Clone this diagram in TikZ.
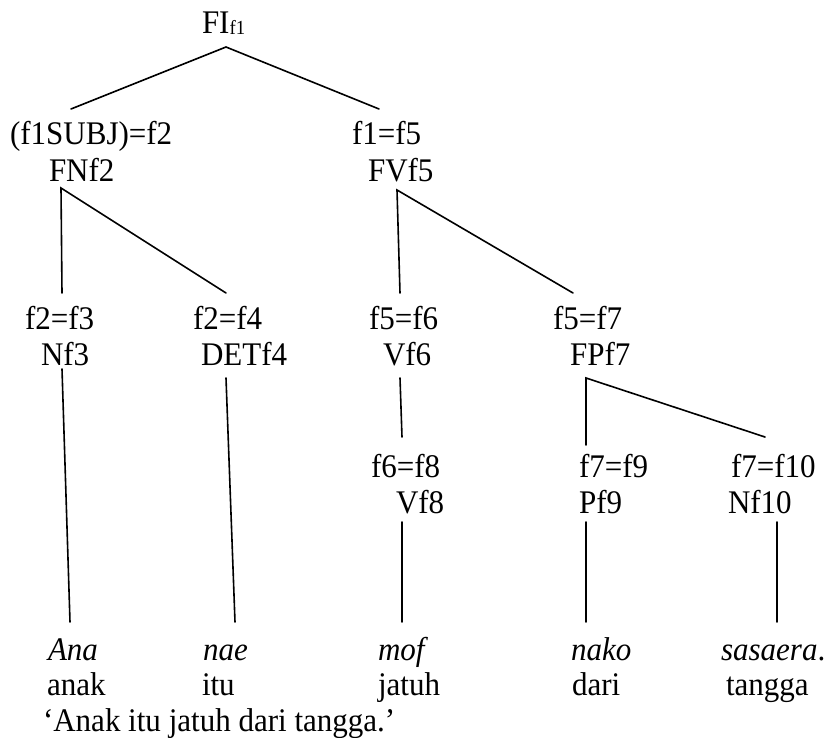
\documentclass[tikz,border=0pt]{standalone}
\usepackage{fontspec}
\setmainfont{Liberation Serif}[FakeStretch=0.94]
\begin{document}
\begin{tikzpicture}[x=1pt,y=-1pt,
  lbl/.style={anchor=base west,inner sep=0pt,outer sep=0pt,font=\fontsize{33}{39}\selectfont},
  edge/.style={line width=1.6pt,line cap=round}]
\useasboundingbox[fill=white] (0,0) rectangle (833,738);
% labels
\node[lbl] (FI) at (202,34) {FI\raisebox{-1pt}{\fontsize{20}{20}\selectfont f1}};
\node[lbl] (subj) at (10,145) {(f1SUBJ)=f2};
\node[lbl] (FN) at (49,182) {FNf2};
\node[lbl] (f15) at (352,145) {f1=f5};
\node[lbl] (FV) at (368,182) {FVf5};
\node[lbl] (f23) at (25,329) {f2=f3};
\node[lbl] (N3) at (41,365) {Nf3};
\node[lbl] (f24) at (193,329) {f2=f4};
\node[lbl] (DET) at (201,365) {DETf4};
\node[lbl] (f56) at (369,329) {f5=f6};
\node[lbl] (V6) at (383,365) {Vf6};
\node[lbl] (f57) at (553,329) {f5=f7};
\node[lbl] (FP) at (570,365) {FPf7};
\node[lbl] (f68) at (371,477) {f6=f8};
\node[lbl] (V8) at (396,513) {Vf8};
\node[lbl] (f79) at (579,477) {f7=f9};
\node[lbl] (P9) at (579,513) {Pf9};
\node[lbl] (f710) at (731,477) {f7=f10};
\node[lbl] (N10) at (728,513) {Nf10};
\node[lbl] (ana) at (48,660) {\itshape Ana};
\node[lbl] (anak) at (47,695) {anak};
\node[lbl] (nae) at (203,660) {\itshape nae};
\node[lbl] (itu) at (202,695) {itu};
\node[lbl] (mof) at (378,660) {\itshape mof};
\node[lbl] (jatuh) at (378,695) {jatuh};
\node[lbl] (nako) at (571,660) {\itshape nako};
\node[lbl] (dari) at (572,695) {dari};
\node[lbl] (sas) at (721,660) {\itshape sasaera\upshape.};
\node[lbl] (tangga) at (726,695) {tangga};
\node[lbl] (gloss) at (43,731) {‘Anak itu jatuh dari tangga.’};
% connector end points
\coordinate (cFI) at (226,47);
\coordinate (cSubjT) at (71,109);
\coordinate (cF15T) at (379,109);
\coordinate (cFN) at (61,188);
\coordinate (cF23T) at (62,293);
\coordinate (cF24T) at (226,293);
\coordinate (cFV) at (397,190);
\coordinate (cF56T) at (400,293);
\coordinate (cF57T) at (573,293);
\coordinate (cN3) at (62,369);
\coordinate (cAna) at (70,622);
\coordinate (cDET) at (226,378);
\coordinate (cNae) at (235,622);
\coordinate (cV6) at (400,378);
\coordinate (cF68T) at (402,437);
\coordinate (cFP) at (586,378);
\coordinate (cF79T) at (586,445);
\coordinate (cF710T) at (765,437);
\coordinate (cV8) at (402,522);
\coordinate (cMof) at (402,622);
\coordinate (cP9) at (586,522);
\coordinate (cNako) at (586,622);
\coordinate (cN10) at (777,522);
\coordinate (cSas) at (777,622);
% connectors
\draw[edge] (cSubjT) -- (cFI) -- (cF15T);
\draw[edge] (cF23T) -- (cFN) -- (cF24T);
\draw[edge] (cF56T) -- (cFV) -- (cF57T);
\draw[edge] (cN3) -- (cAna);
\draw[edge] (cDET) -- (cNae);
\draw[edge] (cV6) -- (cF68T);
\draw[edge] (cF79T) -- (cFP) -- (cF710T);
\draw[edge] (cV8) -- (cMof);
\draw[edge] (cP9) -- (cNako);
\draw[edge] (cN10) -- (cSas);
\end{tikzpicture}
\end{document}
